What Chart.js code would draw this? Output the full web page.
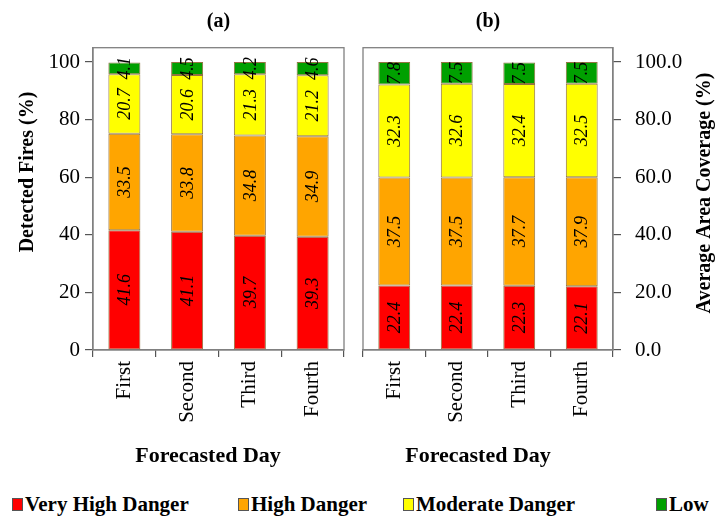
<!DOCTYPE html>
<html>
<head>
<meta charset="utf-8">
<script src="https://cdn.jsdelivr.net/npm/chart.js@4/dist/chart.umd.min.js"></script>
<style>
  html, body { margin:0; padding:0; background:#fff; width:717px; height:519px; overflow:hidden; }
  #ca { position:absolute; left:0; top:0; }
  #cb { position:absolute; left:353px; top:0; }
  #legend { position:absolute; left:0; top:492px; width:717px; height:26px;
    font-family:'Liberation Serif','Times New Roman',serif; font-weight:bold; font-size:21px; color:#000; }
  .item { position:absolute; top:0; display:flex; align-items:center; white-space:nowrap; }
  .box { display:inline-block; width:11px; height:13px; border:1px solid #555; margin-right:2px; box-sizing:border-box; }
</style>
</head>
<body>
<canvas id="ca" width="353" height="470"></canvas>
<canvas id="cb" width="364" height="470"></canvas>
<div id="legend"></div>
<script>
// ---- data ----
const categories = ['First', 'Second', 'Third', 'Fourth'];
const seriesNames = ['Very High Danger', 'High Danger', 'Moderate Danger', 'Low'];
const seriesColors = ['#FF0000', '#FFA500', '#FFFF00', '#00A000'];

// (a) Detected Fires (%)
const firesVeryHigh = [41.6, 41.1, 39.7, 39.3];
const firesHigh     = [33.5, 33.8, 34.8, 34.9];
const firesModerate = [20.7, 20.6, 21.3, 21.2];
const firesLow      = [4.1, 4.5, 4.2, 4.6];

// (b) Average Area Coverage (%)
const areaVeryHigh = [22.4, 22.4, 22.3, 22.1];
const areaHigh     = [37.5, 37.5, 37.7, 37.9];
const areaModerate = [32.3, 32.6, 32.4, 32.5];
const areaLow      = [7.8, 7.5, 7.5, 7.5];

const yTickValues = [0, 20, 40, 60, 80, 100];

// ---- helpers ----
const FONT = "'Liberation Serif','Times New Roman',serif";

function makeDatasets(arrays) {
  return arrays.map((arr, i) => ({
    label: seriesNames[i],
    data: arr,
    backgroundColor: seriesColors[i],
    borderColor: 'rgba(110,70,0,0.75)',
    borderWidth: 1,
    borderSkipped: false,
    barPercentage: 0.51,
    categoryPercentage: 1.0
  }));
}

function framePlugin(cfg) {
  return {
    id: 'frame_' + cfg.key,
    afterDraw(chart) {
      const ctx = chart.ctx;
      const a = chart.chartArea;
      ctx.save();
      ctx.strokeStyle = '#808080';
      ctx.lineWidth = 1.3;
      ctx.strokeRect(a.left, a.top, a.right - a.left, a.bottom - a.top);
      ctx.fillStyle = '#000';
      ctx.textAlign = 'center';
      ctx.textBaseline = 'middle';
      // x title
      ctx.font = 'bold 22px ' + FONT;
      ctx.fillText(cfg.xTitle, cfg.xTitleX, cfg.xTitleY);
      // y title (reads bottom to top)
      ctx.font = 'bold 20px ' + FONT;
      ctx.translate(cfg.yTitleX, cfg.yTitleY);
      ctx.rotate(-Math.PI / 2);
      ctx.fillText(cfg.yTitle, 0, 0);
      ctx.restore();
    },
    afterDatasetsDraw(chart) {
      const ctx = chart.ctx;
      ctx.save();
      ctx.fillStyle = '#000';
      ctx.font = 'italic 18px ' + FONT;
      ctx.textAlign = 'center';
      ctx.textBaseline = 'middle';
      chart.data.datasets.forEach((ds, di) => {
        const meta = chart.getDatasetMeta(di);
        meta.data.forEach((el, i) => {
          const cx = el.x;
          const cy = (el.y + el.base) / 2;
          ctx.save();
          ctx.translate(cx, cy);
          ctx.rotate(-Math.PI / 2);
          ctx.fillText(ds.data[i].toFixed(1), 0, 1);
          ctx.restore();
        });
      });
      ctx.restore();
    }
  };
}

function makeChart(canvasId, datasets, opt) {
  return new Chart(document.getElementById(canvasId), {
    type: 'bar',
    data: { labels: categories, datasets: datasets },
    options: {
      responsive: false,
      animation: false,
      layout: { padding: { left: opt.padLeft, right: opt.padRight, top: 0, bottom: 0 } },
      plugins: {
        legend: { display: false },
        tooltip: { enabled: false },
        title: {
          display: true, text: opt.title, fullSize: false, color: '#000',
          font: { family: FONT, size: 20, weight: 'bold' },
          padding: { top: 10, bottom: 13.7 }
        }
      },
      scales: {
        x: {
          stacked: true,
          offset: true,
          grid: { display: true, offset: true, drawOnChartArea: false, drawTicks: true, tickLength: 7, color: '#555', lineWidth: 1.2 },
          border: { display: true, color: '#808080', width: 1.3 },
          ticks: { maxRotation: 90, minRotation: 90, color: '#000', padding: 4,
                   font: { family: FONT, size: 21 } },
          afterFit: s => { s.height = 120; }
        },
        y: {
          stacked: true,
          position: opt.yPos,
          min: 0, max: 105,
          afterBuildTicks: s => { s.ticks = yTickValues.map(v => ({ value: v })); },
          grid: { display: true, drawOnChartArea: false, drawTicks: true, tickLength: 8, color: '#555', lineWidth: 1.2 },
          border: { display: true, color: '#808080', width: 1.3 },
          ticks: { color: '#000', padding: opt.tickPad, font: { family: FONT, size: 21 },
                   callback: opt.tickFmt },
          afterFit: s => { s.width = opt.yWidth; }
        }
      }
    },
    plugins: [framePlugin(opt.frame)]
  });
}

makeChart('ca', makeDatasets([firesVeryHigh, firesHigh, firesModerate, firesLow]), {
  title: '(a)', padLeft: 0, padRight: 9, yPos: 'left', yWidth: 93, tickPad: 5,
  tickFmt: v => String(v),
  frame: { key: 'a', xTitle: 'Forecasted Day', xTitleX: 208, xTitleY: 456,
           yTitle: 'Detected Fires (%)', yTitleX: 28, yTitleY: 172 }
});

makeChart('cb', makeDatasets([areaVeryHigh, areaHigh, areaModerate, areaLow]), {
  title: '(b)', padLeft: 10, padRight: 0, yPos: 'right', yWidth: 104, tickPad: 14,
  tickFmt: v => Number(v).toFixed(1),
  frame: { key: 'b', xTitle: 'Forecasted Day', xTitleX: 125, xTitleY: 456,
           yTitle: 'Average Area Coverage (%)', yTitleX: 352, yTitleY: 193 }
});

// ---- legend ----
const legendX = [12, 238, 403, 656];
const legend = document.getElementById('legend');
seriesNames.forEach((name, i) => {
  const it = document.createElement('div');
  it.className = 'item';
  it.style.left = legendX[i] + 'px';
  const b = document.createElement('span');
  b.className = 'box';
  b.style.background = seriesColors[i];
  const t = document.createElement('span');
  t.textContent = name;
  it.appendChild(b); it.appendChild(t);
  legend.appendChild(it);
});
</script>
</body>
</html>
